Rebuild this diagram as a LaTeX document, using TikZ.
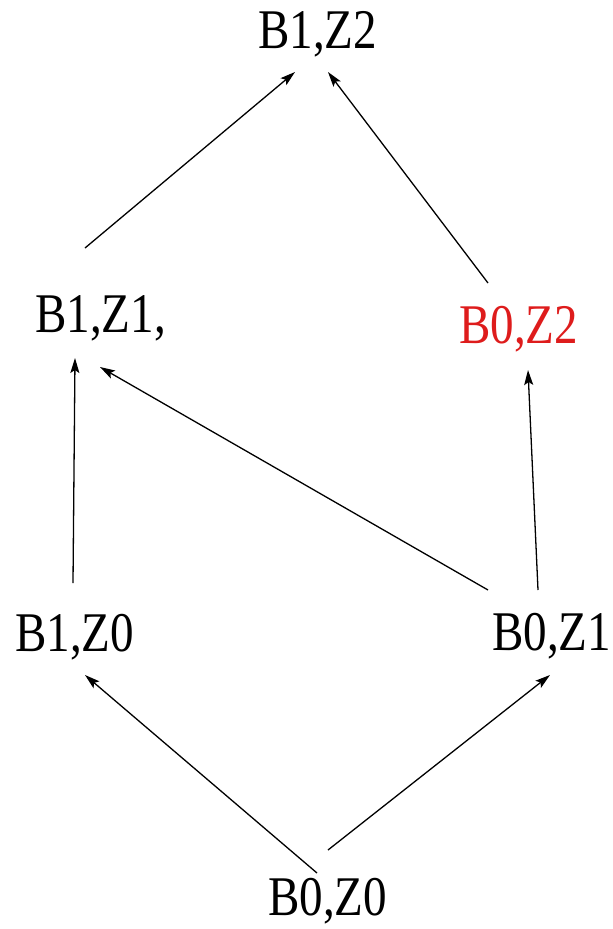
\documentclass[tikz,border=0pt]{standalone}
\usepackage{fontspec}
\setmainfont[FakeStretch=0.84]{Liberation Serif}
\usetikzlibrary{arrows.meta,calc}
\definecolor{lblred}{RGB}{222,28,28}
\begin{document}
\begin{tikzpicture}[x=1pt,y=-1pt,
  lbl/.style={anchor=base west,inner sep=0pt,font=\fontsize{56}{60}\selectfont},
  arr/.style={line width=1.3pt,-{Stealth[length=15pt,width=9pt,inset=3pt]}}]
\useasboundingbox (0,0) rectangle (613,929);
\node[lbl] (b1z2) at (258,48) {B1,Z2};
\node[lbl] (b1z1) at (35,332) {B1,Z1,};
\node[lbl,text=lblred] (b0z2) at (459,343) {B0,Z2};
\node[lbl] (b1z0) at (15,651) {B1,Z0};
\node[lbl] (b0z1) at (492,650) {B0,Z1};
\node[lbl] (b0z0) at (268,915) {B0,Z0};
\draw[arr] ($(b1z1.base west)+(50,-84)$) -- ($(b1z2.base west)+(37,24)$);
\draw[arr] ($(b0z2.base west)+(29,-60)$) -- ($(b1z2.base west)+(70,24)$);
\draw[arr] ($(b1z0.base west)+(58,-68)$) -- ($(b1z1.base west)+(40,26)$);
\draw[arr] ($(b0z1.base west)+(-4,-60)$) -- ($(b1z1.base west)+(65,35)$);
\draw[arr] ($(b0z1.base west)+(46,-60)$) -- ($(b0z2.base west)+(69,27)$);
\draw[arr] ($(b0z0.base west)+(49,-42)$) -- ($(b1z0.base west)+(70,24)$);
\draw[arr] ($(b0z0.base west)+(60,-65)$) -- ($(b0z1.base west)+(58,25)$);
\end{tikzpicture}
\end{document}
